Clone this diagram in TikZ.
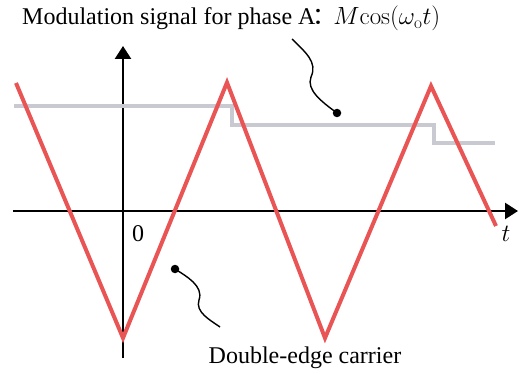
\documentclass[tikz,border=0pt]{standalone}
\usepackage[no-math]{fontspec}
\setmainfont{Liberation Serif}
\newfontfamily\cjk{Noto Sans CJK SC}
\usetikzlibrary{arrows.meta}
\definecolor{carrierred}{HTML}{E95555}
\definecolor{modgray}{HTML}{C9C9D1}
\begin{document}
\begin{tikzpicture}[x=1pt,y=-1pt,
  axisline/.style={line width=2.6pt,-{Triangle[length=13pt,width=16pt]}},
  carrier/.style={carrierred,line width=4pt,line join=miter},
  modsig/.style={modgray,line width=4pt},
  callout/.style={line width=1.4pt},
  calldot/.style={circle,fill=black,inner sep=0pt,minimum size=8.5pt},
  lbl/.style={font=\fontsize{24}{28}\selectfont,inner sep=0pt}]
\useasboundingbox (0,0) rectangle (519,374);
% axes
\coordinate (xs) at (13,211);
\coordinate (xe) at (518,211);
\coordinate (ys) at (123,358);
\coordinate (ye) at (123,46);
\draw[axisline] (xs) -- (xe);
\draw[axisline] (ys) -- (ye);
% modulation signal
\draw[modsig] (14,106.5) -- (231.5,106.5) -- (231.5,125) -- (433.5,125) -- (433.5,143.5) -- (495,143.5);
% carrier
\draw[carrier] (16,83) -- (123,338) -- (227,82.5) -- (325,338) -- (431,86) -- (496,226);
% labels
\node[lbl,anchor=base west] (top) at (22,25) {Modulation signal for phase A\kern-3pt{\cjk ：}\kern-3pt$M\!\cos(\omega_{\mathrm{o}}t)$};
\node[lbl,anchor=base] (bot) at (305,363) {Double-edge carrier};
\node[lbl,anchor=base] (zero) at (138,241) {0};
\node[lbl,anchor=base] (tlab) at (506,241) {$t$};
% callouts
\node[calldot] (d1) at (337,113) {};
\node[calldot] (d2) at (175,269) {};
\coordinate (c1) at (292,39);
\coordinate (c2) at (220,327);
\draw[callout] (c1) .. controls (305,52) and (318,62) .. (311,77) .. controls (306,90) and (322,102) .. (d1.center);
\draw[callout] (d2.center) .. controls (186,276) and (204,286) .. (199,300) .. controls (195,312) and (210,320) .. (c2);
\end{tikzpicture}
\end{document}
